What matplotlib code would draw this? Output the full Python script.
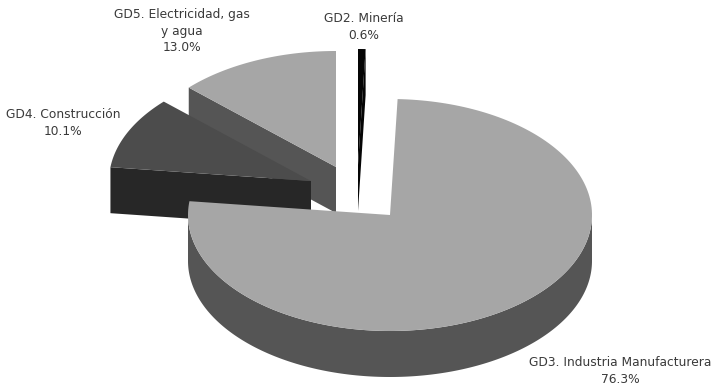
#!/usr/bin/env python
import matplotlib as mpl
mpl.use('Agg')
import matplotlib.pyplot as plt
import numpy as np

names = ['GD2. Minería', 'GD3. Industria Manufacturera', 'GD4. Construcción',
         'GD5. Electricidad, gas\ny agua']
shares = [0.6, 76.3, 10.1, 13.0]

# exploded slice centres, in pixels
centres = [(358, 165), (390, 215), (311, 181), (336, 167)]
top_colors = ['#050505', '#a6a6a6', '#4c4c4c', '#a6a6a6']
side_colors = ['#050505', '#555555', '#272727', '#555555']
label_pos = [(364, 27), (620, 371), (63, 123), (182, 31)]
draw_order = [3, 2, 0, 1]

RX, RY, DEPTH = 202.0, 116.0, 46.0


def rim(cx, cy, a0, a1):
    # points on the elliptical edge, angles clockwise from 12 o'clock
    t = np.radians(np.linspace(a0, a1, 200))
    return cx + RX * np.sin(t), cy - RY * np.cos(t)


fig = plt.figure(figsize=(7.12, 3.86), dpi=100)
ax = fig.add_axes([0, 0, 1, 1])
ax.set_xlim(0, 712)
ax.set_ylim(386, 0)
ax.axis('off')

edges = np.concatenate([[0], np.cumsum(shares)]) * 3.6

for i in draw_order:
    cx, cy = centres[i]
    a0, a1 = edges[i], edges[i + 1]
    xs, ys = rim(cx, cy, a0, a1)

    # cut faces that look towards the viewer
    fx = [cx, xs[-1], xs[-1], cx]
    fy = [cy, ys[-1], ys[-1] + DEPTH, cy + DEPTH]
    fx0 = [cx, xs[0], xs[0], cx]
    fy0 = [cy, ys[0], ys[0] + DEPTH, cy + DEPTH]
    if a0 > 180:
        ax.fill(fx0, fy0, color=side_colors[i], lw=0)
    if a1 <= 180 or i == 0:
        ax.fill(fx, fy, color=side_colors[i], lw=0)

    # outer wall, only the part facing the viewer
    lo, hi = max(a0, 90), min(a1, 270)
    if lo < hi:
        wx, wy = rim(cx, cy, lo, hi)
        ax.fill(np.r_[wx, wx[::-1]], np.r_[wy, wy[::-1] + DEPTH],
                color=side_colors[i], lw=0)

    ax.fill(np.r_[cx, xs], np.r_[cy, ys], color=top_colors[i], lw=0)

for name, share, (x, y) in zip(names, shares, label_pos):
    ax.text(x, y, '%s\n%.1f%%' % (name, share), ha='center', va='center',
            fontsize=8.8, color='#3a3a3a', linespacing=1.33,
            family='DejaVu Sans')

fig.savefig('out.png', dpi=100)
